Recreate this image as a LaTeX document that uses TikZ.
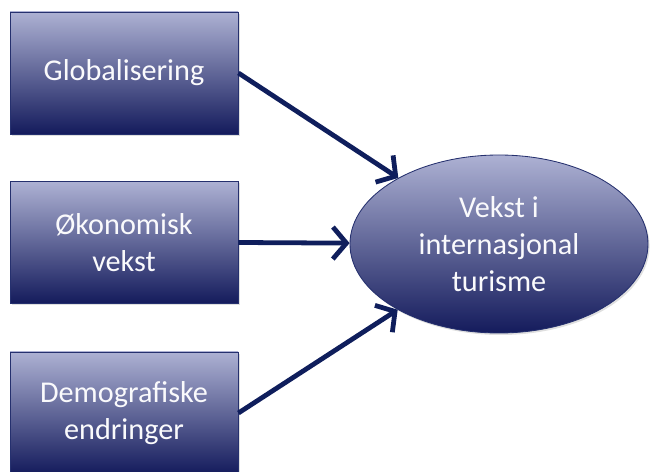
\documentclass[tikz,border=0pt]{standalone}
\usepackage{fontspec}
\setmainfont{Carlito}
\usepackage{xcolor}
\usepackage{tikz}
\usetikzlibrary{arrows.meta,positioning,shapes.geometric,shadows}
\definecolor{navy}{HTML}{0F1E5C}
\definecolor{edge}{HTML}{25306E}
\definecolor{lav}{HTML}{ADB1D3}
\definecolor{deep}{HTML}{141B5C}
\tikzset{
  grad/.style={top color=lav, bottom color=deep, draw=edge, line width=0.6pt,
    text=white!94!lav, align=center, font=\fontsize{21.5}{26.5}\selectfont,
    drop shadow={opacity=0.25, shadow xshift=0.04cm, shadow yshift=-0.05cm}},
  cause/.style={grad, rectangle, minimum width=5.7cm, minimum height=3.05cm, inner sep=0pt},
  effect/.style={grad, ellipse, minimum width=7.45cm, minimum height=4.45cm, inner sep=0pt},
  push/.style={navy, line width=3.4pt, -{Straight Barb[length=3.4mm, width=8mm, line width=3.4pt]}},
}
\begin{document}
\begin{tikzpicture}
\useasboundingbox (0,0) rectangle (16.3,11.8);
\node[cause] (glob) at (3.1,9.975) {Globalisering};
\node[cause] (okon) at (3.1,5.7375) {Økonomisk\\vekst};
\node[cause] (demo) at (3.1,1.475) {Demografiske\\endringer};
\node[effect] (vekst) at (12.475,5.7) {Vekst i\\internasjonal\\turisme};
\draw[push] (glob.east) -- (vekst);
\draw[push] (okon.east) -- (vekst);
\draw[push] (demo.east) -- (vekst);
\end{tikzpicture}
\end{document}
